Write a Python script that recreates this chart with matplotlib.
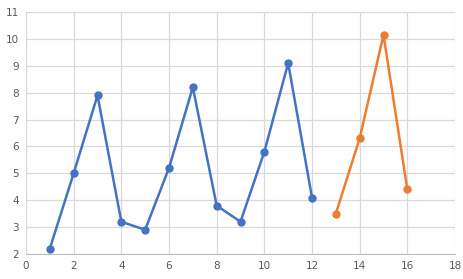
import matplotlib.pyplot as plt
import numpy as np

# datos
x_azul = [1, 2, 3, 4, 5, 6, 7, 8, 9, 10, 11, 12]
y_azul = [2.2, 5.0, 7.9, 3.2, 2.9, 5.2, 8.2, 3.8, 3.2, 5.8, 9.1, 4.1]
x_naranja = [13, 14, 15, 16]
y_naranja = [3.5, 6.3, 10.15, 4.4]

fig = plt.figure(figsize=(4.63, 2.79), dpi=100)
ax = fig.add_axes([26 / 463, 1 - 254 / 279, (455 - 26) / 463, (254 - 12) / 279])

ax.plot(x_azul, y_azul, color="#4472C4", lw=1.8, marker="o", ms=5, zorder=3)
ax.plot(x_naranja, y_naranja, color="#ED7D31", lw=1.8, marker="o", ms=5, zorder=3)

ax.set_xlim(0, 18)
ax.set_ylim(2, 11)
ax.set_xticks(np.arange(0, 19, 2))
ax.set_yticks(np.arange(2, 12, 1))
ax.grid(True, color="#D9D9D9", lw=0.9)
ax.set_axisbelow(True)

for s in ["left", "top", "right"]:
    ax.spines[s].set_visible(False)
ax.spines["bottom"].set_color("#BFBFBF")
ax.tick_params(length=0, labelsize=7.5, labelcolor="#595959", pad=5)

fig.savefig("out.png", dpi=100)
